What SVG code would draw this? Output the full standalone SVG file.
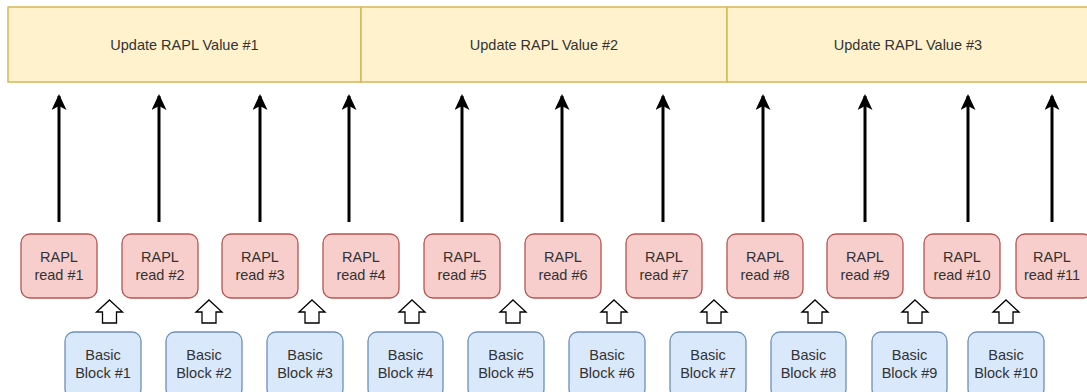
<svg xmlns="http://www.w3.org/2000/svg" width="1087" height="392" viewBox="0 0 1087 392">
<defs>
<style>
.upd{fill:#fff2cc;stroke:#d6b656;stroke-width:1.5}
.rd{fill:#f8cecc;stroke:#b85450;stroke-width:1.3}
.bb{fill:#dae8fc;stroke:#6c8ebf;stroke-width:1.3}
.t{font-family:"Liberation Sans",Arial,sans-serif;font-size:14.5px;fill:#333333;text-anchor:middle}
.ln{stroke:#000;stroke-width:3;fill:none}
.hol{fill:#fff;stroke:#000;stroke-width:1.3;stroke-linejoin:miter}
</style>
<marker id="ah" viewBox="0 0 16 15" refX="14" refY="7.5" markerWidth="16" markerHeight="15" markerUnits="userSpaceOnUse" orient="auto">
<path d="M0,0 L16,7.5 L0,15 L4,7.5 Z" fill="#000"/>
</marker>
</defs>
<rect width="1087" height="392" fill="#ffffff"/>

<g id="update1"><rect class="upd" x="8" y="7" width="353" height="75"/><text class="t" x="184.5" y="50">Update RAPL Value #1</text></g>
<g id="update2"><rect class="upd" x="361" y="7" width="366" height="75"/><text class="t" x="544" y="50">Update RAPL Value #2</text></g>
<g id="update3"><rect class="upd" x="727" y="7" width="362" height="75"/><text class="t" x="908" y="50">Update RAPL Value #3</text></g>

<g id="read1"><rect class="rd" x="21" y="234" width="76" height="64" rx="9"/><text class="t" x="59" y="262">RAPL</text><text class="t" x="59" y="280">read #1</text></g>
<g id="read2"><rect class="rd" x="122" y="234" width="76" height="64" rx="9"/><text class="t" x="160" y="262">RAPL</text><text class="t" x="160" y="280">read #2</text></g>
<g id="read3"><rect class="rd" x="222" y="234" width="76" height="64" rx="9"/><text class="t" x="260" y="262">RAPL</text><text class="t" x="260" y="280">read #3</text></g>
<g id="read4"><rect class="rd" x="323" y="234" width="76" height="64" rx="9"/><text class="t" x="361" y="262">RAPL</text><text class="t" x="361" y="280">read #4</text></g>
<g id="read5"><rect class="rd" x="424" y="234" width="76" height="64" rx="9"/><text class="t" x="462" y="262">RAPL</text><text class="t" x="462" y="280">read #5</text></g>
<g id="read6"><rect class="rd" x="525" y="234" width="76" height="64" rx="9"/><text class="t" x="563" y="262">RAPL</text><text class="t" x="563" y="280">read #6</text></g>
<g id="read7"><rect class="rd" x="626" y="234" width="76" height="64" rx="9"/><text class="t" x="664" y="262">RAPL</text><text class="t" x="664" y="280">read #7</text></g>
<g id="read8"><rect class="rd" x="727" y="234" width="76" height="64" rx="9"/><text class="t" x="765" y="262">RAPL</text><text class="t" x="765" y="280">read #8</text></g>
<g id="read9"><rect class="rd" x="827" y="234" width="76" height="64" rx="9"/><text class="t" x="865" y="262">RAPL</text><text class="t" x="865" y="280">read #9</text></g>
<g id="read10"><rect class="rd" x="924" y="234" width="76" height="64" rx="9"/><text class="t" x="962" y="262">RAPL</text><text class="t" x="962" y="280">read #10</text></g>
<g id="read11"><rect class="rd" x="1016" y="234" width="76" height="64" rx="9"/><text class="t" x="1052" y="262">RAPL</text><text class="t" x="1052" y="280">read #11</text></g>

<g id="block1"><rect class="bb" x="65" y="332" width="76" height="66" rx="9"/><text class="t" x="103" y="360">Basic</text><text class="t" x="103" y="378">Block #1</text></g>
<g id="block2"><rect class="bb" x="166" y="332" width="76" height="66" rx="9"/><text class="t" x="204" y="360">Basic</text><text class="t" x="204" y="378">Block #2</text></g>
<g id="block3"><rect class="bb" x="267" y="332" width="76" height="66" rx="9"/><text class="t" x="305" y="360">Basic</text><text class="t" x="305" y="378">Block #3</text></g>
<g id="block4"><rect class="bb" x="368" y="332" width="75" height="66" rx="9"/><text class="t" x="405.5" y="360">Basic</text><text class="t" x="405.5" y="378">Block #4</text></g>
<g id="block5"><rect class="bb" x="468" y="332" width="76" height="66" rx="9"/><text class="t" x="506" y="360">Basic</text><text class="t" x="506" y="378">Block #5</text></g>
<g id="block6"><rect class="bb" x="569" y="332" width="76" height="66" rx="9"/><text class="t" x="607" y="360">Basic</text><text class="t" x="607" y="378">Block #6</text></g>
<g id="block7"><rect class="bb" x="670" y="332" width="76" height="66" rx="9"/><text class="t" x="708" y="360">Basic</text><text class="t" x="708" y="378">Block #7</text></g>
<g id="block8"><rect class="bb" x="771" y="332" width="75" height="66" rx="9"/><text class="t" x="808.5" y="360">Basic</text><text class="t" x="808.5" y="378">Block #8</text></g>
<g id="block9"><rect class="bb" x="872" y="332" width="75" height="66" rx="9"/><text class="t" x="909.5" y="360">Basic</text><text class="t" x="909.5" y="378">Block #9</text></g>
<g id="block10"><rect class="bb" x="968" y="332" width="76" height="66" rx="9"/><text class="t" x="1006" y="360">Basic</text><text class="t" x="1006" y="378">Block #10</text></g>

<g id="connectors">
<line class="ln" x1="59" y1="222" x2="59" y2="96" marker-end="url(#ah)"/>
<line class="ln" x1="159" y1="222" x2="159" y2="96" marker-end="url(#ah)"/>
<line class="ln" x1="260" y1="222" x2="260" y2="96" marker-end="url(#ah)"/>
<line class="ln" x1="349" y1="222" x2="349" y2="96" marker-end="url(#ah)"/>
<line class="ln" x1="462" y1="222" x2="462" y2="96" marker-end="url(#ah)"/>
<line class="ln" x1="562" y1="222" x2="562" y2="96" marker-end="url(#ah)"/>
<line class="ln" x1="663" y1="222" x2="663" y2="96" marker-end="url(#ah)"/>
<line class="ln" x1="763" y1="222" x2="763" y2="96" marker-end="url(#ah)"/>
<line class="ln" x1="865" y1="222" x2="865" y2="96" marker-end="url(#ah)"/>
<line class="ln" x1="968" y1="222" x2="968" y2="96" marker-end="url(#ah)"/>
<line class="ln" x1="1052" y1="222" x2="1052" y2="96" marker-end="url(#ah)"/>

<polygon class="hol" points="109.5,300 122.5,312 116.5,312 116.5,323 102.5,323 102.5,312 96.5,312"/>
<polygon class="hol" points="209,300 222,312 216,312 216,323 202,323 202,312 196,312"/>
<polygon class="hol" points="312,300 325,312 319,312 319,323 305,323 305,312 299,312"/>
<polygon class="hol" points="412,300 425,312 419,312 419,323 405,323 405,312 399,312"/>
<polygon class="hol" points="513,300 526,312 520,312 520,323 506,323 506,312 500,312"/>
<polygon class="hol" points="614,300 627,312 621,312 621,323 607,323 607,312 601,312"/>
<polygon class="hol" points="714,300 727,312 721,312 721,323 707,323 707,312 701,312"/>
<polygon class="hol" points="815,300 828,312 822,312 822,323 808,323 808,312 802,312"/>
<polygon class="hol" points="915,300 928,312 922,312 922,323 908,323 908,312 902,312"/>
<polygon class="hol" points="1006,300 1019,312 1013,312 1013,323 999,323 999,312 993,312"/>
</g>
</svg>
